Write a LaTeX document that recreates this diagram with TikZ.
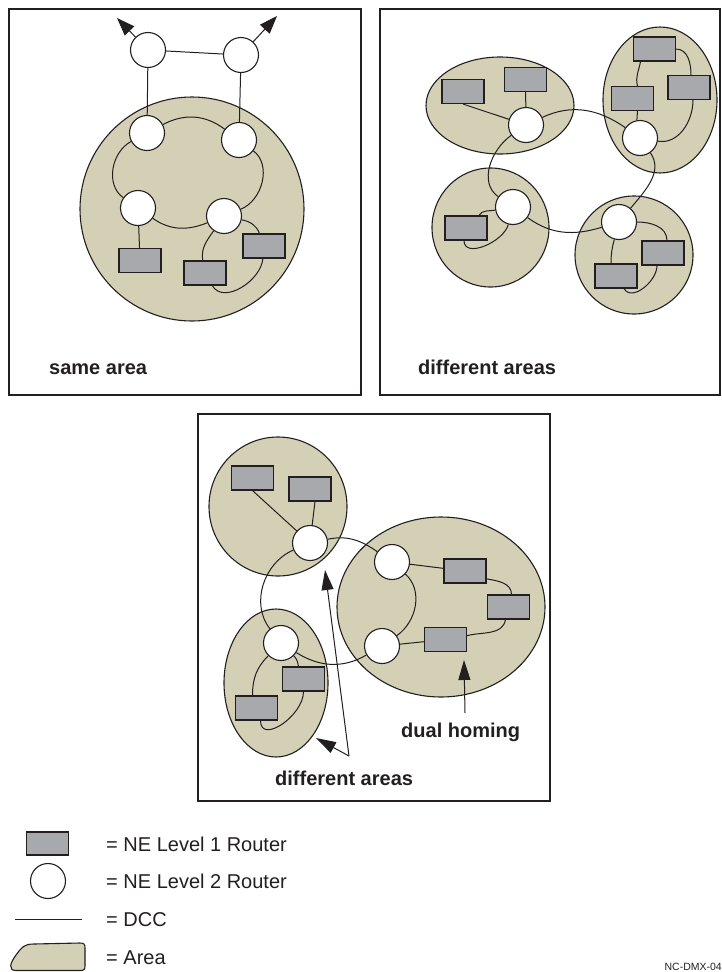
\documentclass[tikz,border=0pt]{standalone}
\usepackage{fontspec}
\setmainfont{Liberation Sans}
\usetikzlibrary{arrows.meta}
\definecolor{ink}{HTML}{231F20}
\definecolor{areafill}{HTML}{D3D0B5}
\definecolor{rectgray}{HTML}{A7A9AC}
\begin{document}
\begin{tikzpicture}[x=1pt,y=-1pt,
  area/.style={fill=areafill,draw=ink,line width=1.1pt},
  lone/.style={rectangle,draw=ink,fill=rectgray,line width=1.1pt,minimum width=42pt,minimum height=24pt,inner sep=0pt},
  ltwo/.style={circle,draw=ink,fill=white,line width=1.1pt,minimum size=35pt,inner sep=0pt},
  dcc/.style={draw=ink,line width=1pt},
  panel/.style={draw=ink,line width=2.2pt},
  arrA/.style={dcc,-{Triangle[length=18pt,width=13pt]}},
  arrB/.style={dcc,-{Triangle[length=20pt,width=12pt]}},
  lbl/.style={font=\bfseries\fontsize{20}{24}\selectfont,text=ink,inner sep=0pt},
  leg/.style={font=\fontsize{20}{24}\selectfont,text=ink,inner sep=0pt}]
\useasboundingbox (0,0) rectangle (721,972);

% panels
\draw[panel] (9,9) rectangle (361,395);
\draw[panel] (380,9) rectangle (719.8,395);
\draw[panel] (198,414) rectangle (550,801);

% ---------- Panel 1 ----------
\path[area] (192,209) circle[radius=112];
\node[ltwo] (p1tl) at (148,50) {};
\node[ltwo] (p1tr) at (241,55) {};
\node[ltwo] (p1a) at (147,133) {};
\node[ltwo] (p1b) at (239,140) {};
\node[ltwo] (p1c) at (224,216) {};
\node[ltwo] (p1d) at (138,208) {};
\node[lone] (p1r1) at (140,260.5) {};
\node[lone] (p1r2) at (205,273) {};
\node[lone] (p1r3) at (264,246) {};
\coordinate (p1al) at (117,18);
\coordinate (p1ar) at (277,16);
\draw[arrA] (p1tl) -- (p1al);
\draw[arrA] (p1tr) -- (p1ar);
\draw[dcc] (p1tl) -- (p1tr);
\draw[dcc] (p1tl) -- (p1a);
\draw[dcc] (p1tr) -- (p1b);
\draw[dcc] (p1a) to[out=28,in=143] (p1b);
\draw[dcc] (p1b) to[out=-37,in=22] (p1c);
\draw[dcc] (p1c) to[out=202,in=-35] (p1d);
\draw[dcc] (p1d) to[out=145,in=208] (p1a);
\draw[dcc] (p1d) -- (p1r1);
\draw[dcc] (p1c) to[out=-12,in=110] (p1r3);
\draw[dcc] (p1r3) to[out=-95,in=-60] (p1r2);
\draw[dcc] (p1r2) to[out=100,in=235] (p1c);
\node[lbl,anchor=base west] (lab1) at (49,374) {same area};

% ---------- Panel 2 ----------
\path[area] (500,105.5) ellipse[x radius=74,y radius=48.5];
\path[area] (660,100) ellipse[x radius=57,y radius=73];
\path[area] (490.5,227.5) ellipse[x radius=58.5,y radius=59.5];
\path[area] (634,255) circle[radius=59];
\node[ltwo] (c1) at (526,125) {};
\node[ltwo] (c2) at (640,138) {};
\node[ltwo] (c3) at (619,222) {};
\node[ltwo] (c4) at (513,207) {};
\node[lone] (rA) at (463,91.5) {};
\node[lone] (rB) at (525.5,79.5) {};
\node[lone] (rC) at (654.5,49) {};
\node[lone] (rD) at (689,87.5) {};
\node[lone] (rE) at (632.5,98.5) {};
\node[lone] (rF) at (466,228) {};
\node[lone] (rG) at (663,253) {};
\node[lone] (rH) at (616,276) {};
\draw[dcc] (rA.south) -- (c1);
\draw[dcc] (rB) -- (c1);
\draw[dcc] (c1) to[out=25,in=145] (c2);
\draw[dcc] (c2) to[out=-55,in=50] (c3);
\draw[dcc] (c3) to[out=197,in=-36] (c4);
\draw[dcc] (c4) to[out=145,in=215] (c1);
\draw[dcc] (c2.100) -- ([xshift=5pt]rE.south);
\draw[dcc] ([xshift=5pt]rE.north) to[out=105,in=-100] ([xshift=-14pt]rC.south);
\draw[dcc] (rC.east) to[out=0,in=90] ([xshift=2pt]rD.north);
\draw[dcc] ([xshift=4pt]rD.south) to[out=-90,in=-10] (c2);
\draw[dcc] (c4) to[out=190,in=60] ([xshift=13pt]rF.north);
\draw[dcc] ([xshift=-2pt]rF.south) to[out=-90,in=-105] (c4);
\draw[dcc] (c3) to[out=0,in=90] ([xshift=4pt]rG.north);
\draw[dcc] ([xshift=-6pt]rG.south) to[out=-90,in=-60] ([xshift=8pt]rH.south);
\draw[dcc] (c3) to[out=-105,in=90] ([xshift=-5pt]rH.north);
\node[lbl,anchor=base west] (lab2) at (418,374) {different areas};

% ---------- Panel 3 ----------
\path[area] (278,506.5) ellipse[x radius=69,y radius=69.5];
\path[area] (441,607) ellipse[x radius=104,y radius=90];
\path[area] (276,683) ellipse[x radius=52,y radius=74];
\node[ltwo] (c5) at (310,543) {};
\node[ltwo] (c6) at (392,562) {};
\node[ltwo] (c7) at (382,646) {};
\node[ltwo] (c8) at (281,643) {};
\node[lone] (rI) at (252.5,478) {};
\node[lone] (rJ) at (310,489) {};
\node[lone] (rK) at (465,571) {};
\node[lone] (rL) at (508.5,607) {};
\node[lone] (rM) at (445.5,639.5) {};
\node[lone] (rN) at (303.5,679) {};
\node[lone] (rO) at (256.5,708) {};
\draw[dcc] (rI.south) -- (c5);
\draw[dcc] ([xshift=5pt]rJ.south) -- (c5);
\draw[dcc] (c5) to[out=12,in=145] (c6);
\draw[dcc] (c6) to[out=-42,in=35] (c7);
\draw[dcc] (c7) to[out=210,in=-32] (c8);
\draw[dcc] (c8) to[out=128,in=203] (c5);
\draw[dcc] (c6) -- (rK);
\draw[dcc] (rK.-20) to[out=-10,in=90] ([xshift=3pt]rL.north);
\draw[dcc] ([xshift=-3pt]rL.south) to[out=-100,in=15] (rM.10);
\draw[dcc] (rM) -- (c7);
\draw[dcc] (c8) to[out=225,in=90] ([xshift=-4pt]rO.north);
\draw[dcc] ([xshift=4pt]rO.south) to[out=-90,in=-90,looseness=1.2] (rN.south);
\draw[dcc] ([xshift=-5pt]rN.north) to[out=100,in=-45] (c8);
\coordinate (va) at (349,756);
\coordinate (ta) at (325,570);
\coordinate (tb) at (316,738);
\draw[arrB] (va) -- (ta);
\draw[arrB] (va) -- (tb);
\coordinate (dha) at (465,713);
\coordinate (dhb) at (464,660);
\draw[arrB] (dha) -- (dhb);
\node[lbl,anchor=base west] (lab3) at (275,785) {different areas};
\node[lbl,anchor=base west] (lab4) at (401,737) {dual homing};

% ---------- Legend ----------
\node[lone,minimum height=23pt] (lg1) at (47.5,843.5) {};
\node[ltwo] (lg2) at (48,881) {};
\coordinate (lg3a) at (15,919);
\coordinate (lg3b) at (82,919);
\draw[dcc] (lg3a) -- (lg3b);
\draw[area] (16,970.5) .. controls (8,970.5) and (10,963) .. (16,955)
  .. controls (22,947) and (24,944) .. (34,944) -- (80,943)
  .. controls (84,943) and (85,944) .. (85,948) -- (85,966)
  .. controls (85,969.5) and (84,970.5) .. (80,970.5) -- cycle;
\node[leg,anchor=base west] (lt1) at (106,851) {= NE Level 1 Router};
\node[leg,anchor=base west] (lt2) at (106,888) {= NE Level 2 Router};
\node[leg,anchor=base west] (lt3) at (106,926) {= DCC};
\node[leg,anchor=base west] (lt4) at (106,964) {= Area};
\node[font=\fontsize{10.5}{12}\selectfont,text=ink,inner sep=0pt,anchor=base east] (code) at (722,970) {NC-DMX-04};
\end{tikzpicture}
\end{document}
